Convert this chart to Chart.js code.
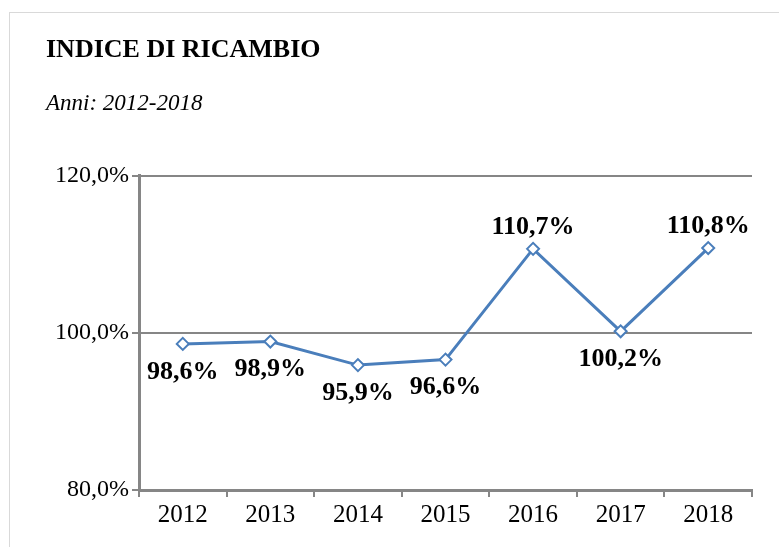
<!DOCTYPE html>
<html>
<head>
<meta charset="utf-8">
<script src="https://cdn.jsdelivr.net/npm/chart.js@4.4.1/dist/chart.umd.min.js"></script>
<style>
  html, body { margin: 0; padding: 0; background: #fff; }
  #frame { position: absolute; left: 9px; top: 12px; width: 800px; height: 560px; border-top: 1px solid #d9d9d9; border-left: 1px solid #d9d9d9; }
  #wrap { position: absolute; left: 0; top: 0; width: 779px; height: 547px; }
</style>
</head>
<body>
<div id="frame"></div>
<div id="wrap"><canvas id="chart"></canvas></div>
<script>
const years = ['2012', '2013', '2014', '2015', '2016', '2017', '2018'];
const ricambio = [98.6, 98.9, 95.9, 96.6, 110.7, 100.2, 110.8];
const labelSide = ['below', 'below', 'below', 'below', 'above', 'below', 'above'];
const yTicks = [80, 100, 120];

const fmt = (v, d) => v.toFixed(d).replace('.', ',') + '%';
const serif = "'Liberation Serif', 'Times New Roman', serif";
const blue = '#4a7ebb';
const gray = '#868686';

// etichette dei valori sopra/sotto i punti
const valueLabels = {
  id: 'valueLabels',
  afterDatasetsDraw(chart) {
    const ctx = chart.ctx;
    const meta = chart.getDatasetMeta(0);
    ctx.save();
    ctx.font = 'bold 26px ' + serif;
    ctx.fillStyle = '#000';
    ctx.textAlign = 'center';
    ctx.textBaseline = 'middle';
    meta.data.forEach((pt, i) => {
      const dy = labelSide[i] === 'above' ? -22 : 28;
      ctx.fillText(fmt(ricambio[i], 1), pt.x, pt.y + dy);
    });
    ctx.restore();
  }
};

new Chart(document.getElementById('chart'), {
  type: 'line',
  data: {
    labels: years,
    datasets: [{
      data: ricambio,
      borderColor: blue,
      borderWidth: 3,
      pointStyle: 'rectRot',
      pointRadius: 6,
      pointBorderWidth: 2,
      pointBackgroundColor: '#fff',
      pointBorderColor: blue,
      tension: 0
    }]
  },
  options: {
    responsive: true,
    maintainAspectRatio: false,
    animation: false,
    layout: { padding: { left: 46, right: 27, top: 0, bottom: 14 } },
    plugins: {
      legend: { display: false },
      tooltip: { enabled: false },
      title: {
        display: true,
        text: 'INDICE DI RICAMBIO',
        align: 'start',
        color: '#000',
        font: { family: serif, size: 26, weight: 'bold' },
        padding: { top: 35, bottom: 24 }
      },
      subtitle: {
        display: true,
        text: 'Anni: 2012-2018',
        align: 'start',
        color: '#000',
        font: { family: serif, size: 23, style: 'italic' },
        padding: { top: 0, bottom: 58 }
      }
    },
    scales: {
      x: {
        offset: true,
        grid: { offset: true, drawOnChartArea: false, drawTicks: true, tickLength: 7, color: gray, lineWidth: 2 },
        border: { color: gray, width: 3 },
        ticks: { color: '#000', font: { family: serif, size: 25 }, padding: 3 }
      },
      y: {
        min: 80,
        max: 120,
        afterBuildTicks: (axis) => { axis.ticks = yTicks.map(v => ({ value: v })); },
        afterFit: (axis) => { axis.width = 93; },
        grid: { color: gray, lineWidth: 2, tickLength: 7 },
        border: { color: gray, width: 3 },
        ticks: { color: '#000', font: { family: serif, size: 24 }, padding: 3, callback: (v) => fmt(v, 1) }
      }
    }
  },
  plugins: [valueLabels]
});
</script>
</body>
</html>
